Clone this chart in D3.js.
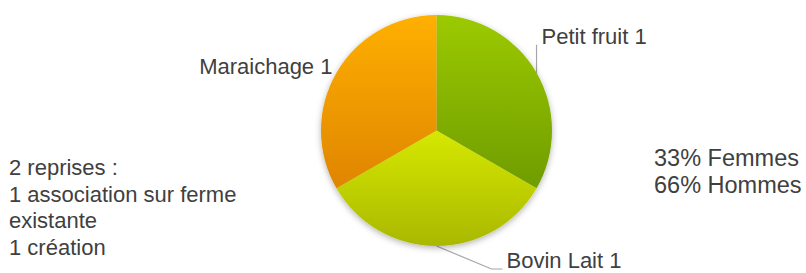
<!DOCTYPE html>
<html>
<head>
<meta charset="utf-8">
<script src="https://cdn.jsdelivr.net/npm/d3@7"></script>
<style>
  html, body { margin: 0; padding: 0; background: #fff; }
  svg { display: block; }
  text { font-family: "Liberation Sans", Arial, sans-serif; fill: #404040; }
</style>
</head>
<body>
<script>
// ---- data ----
const categories = ["Petit fruit", "Bovin Lait", "Maraichage"];
const values = [1, 1, 1];
const topColors = ["#9cca00", "#d6e800", "#ffb000"];
const bottomColors = ["#6f9c00", "#a9b800", "#df8500"];
const noteLines = ["2 reprises :", "1 association sur ferme", "existante", "1 création"];
const genderLines = ["33% Femmes", "66% Hommes"];

const W = 806, H = 273;
const cx = 436.5, cy = 130.5, R = 115.5;
const fontSize = 22;

const svg = d3.select("body").append("svg").attr("width", W).attr("height", H);
const defs = svg.append("defs");

const shadow = defs.append("filter").attr("id", "shadow")
  .attr("x", "-20%").attr("y", "-20%").attr("width", "140%").attr("height", "140%");
shadow.append("feDropShadow").attr("dx", 0).attr("dy", 2).attr("stdDeviation", 3)
  .attr("flood-color", "#000").attr("flood-opacity", 0.3);

categories.forEach((c, i) => {
  const g = defs.append("linearGradient").attr("id", "grad" + i)
    .attr("x1", 0).attr("y1", 0).attr("x2", 0).attr("y2", 1);
  g.append("stop").attr("offset", "0%").attr("stop-color", topColors[i]);
  g.append("stop").attr("offset", "100%").attr("stop-color", bottomColors[i]);
});

const pie = d3.pie().sort(null).value(d => d)(values);
const arc = d3.arc().innerRadius(0).outerRadius(R);
const edge = d3.arc().innerRadius(R).outerRadius(R);

// leader lines (beneath the pie)
const lines = svg.append("g").attr("stroke", "#a6a6a6").attr("stroke-width", 1.2).attr("fill", "none");
const labels = svg.append("g").style("font-size", fontSize + "px");

pie.forEach((d, i) => {
  const [ex, ey] = edge.centroid(d);
  const px = cx + ex, py = cy + ey;
  const label = categories[i] + " " + values[i];
  if (i === 0) {
    lines.append("path").attr("d", `M${px},${py + 2}L${px},${py - 28}`);
    labels.append("text").attr("x", px + 5).attr("y", py - 29).text(label);
  } else if (i === 1) {
    lines.append("path").attr("d", `M${px},${py}L${px + 55},${py + 23}L${px + 66},${py + 23}`);
    labels.append("text").attr("x", px + 70).attr("y", py + 22).text(label);
  } else {
    labels.append("text").attr("x", px - 4).attr("y", py + 1.5)
      .attr("text-anchor", "end").text(label);
  }
});

const pg = svg.append("g").attr("transform", `translate(${cx},${cy})`).attr("filter", "url(#shadow)");
pg.selectAll("path").data(pie).join("path")
  .attr("d", arc)
  .attr("fill", (d, i) => `url(#grad${i})`);

// annotations
const note = svg.append("text").attr("x", 9).attr("y", 175).style("font-size", fontSize + "px");
noteLines.forEach((t, i) => note.append("tspan").attr("x", 9).attr("y", 175 + i * 26.7).text(t));

const gender = svg.append("text").style("font-size", "23.5px");
genderLines.forEach((t, i) => gender.append("tspan").attr("x", 654).attr("y", 166 + i * 27).text(t));
</script>
</body>
</html>
